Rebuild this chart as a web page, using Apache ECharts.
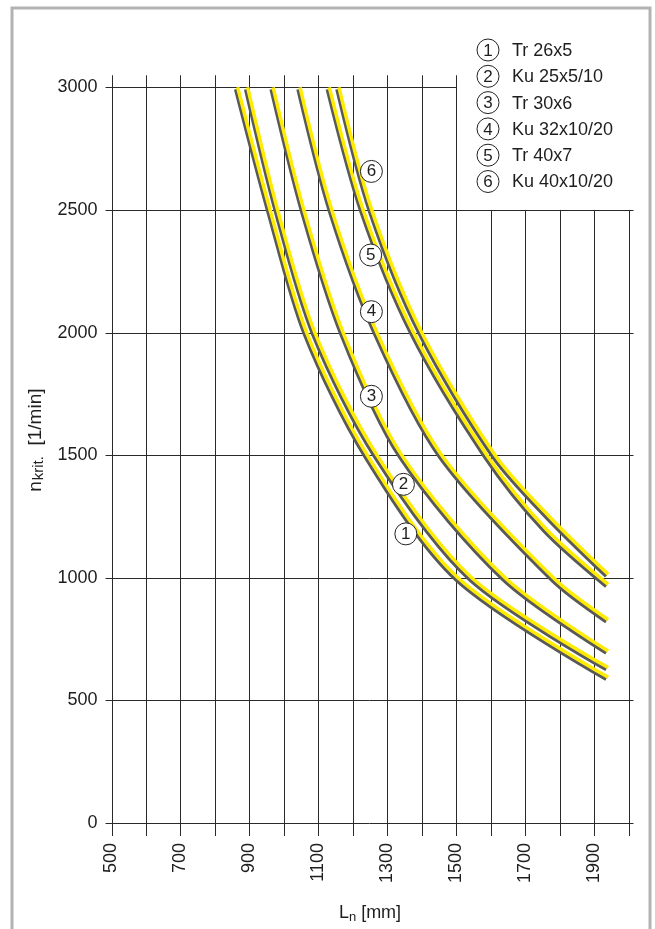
<!DOCTYPE html>
<html>
<head>
<meta charset="utf-8">
<script src="https://cdn.jsdelivr.net/npm/echarts@6/dist/echarts.min.js"></script>
<style>
  html, body { margin: 0; padding: 0; background: #fff; }
  #chart { width: 655px; height: 929px; }
</style>
</head>
<body>
<div id="chart"></div>
<script>
// Kurven (L in mm, n in 1/min)
let seriesNames = ['Tr 26x5', 'Ku 25x5/10', 'Tr 30x6', 'Ku 32x10/20', 'Tr 40x7', 'Ku 40x10/20'];
let curve1 = [[866, 3000], [960, 2500], [1066, 2000], [1242, 1500], [1505, 1000], [1941, 594]];
let curve2 = [[895, 3000], [982, 2500], [1090, 2000], [1270, 1500], [1545, 1000], [1941, 634]];
let curve3 = [[969, 3000], [1058, 2500], [1172, 2000], [1342, 1500], [1642, 1000], [1941, 701]];
let curve4 = [[1047, 3000], [1139, 2500], [1270, 2000], [1458, 1500], [1782, 1000], [1941, 829]];
let curve5 = [[1132, 3000], [1230, 2500], [1376, 2000], [1589, 1500], [1760, 1200], [1941, 973]];
let curve6 = [[1160, 3000], [1255, 2500], [1400, 2000], [1613, 1500], [1770, 1250], [1941, 1014]];
let curves = [curve1, curve2, curve3, curve4, curve5, curve6];

// Kreise mit Nummern an den Kurven
let markerX = [1354, 1347, 1254, 1254, 1252, 1254];
let markerY = [1179, 1381, 1740, 2085, 2316, 2657];
let markerText = ['1', '2', '3', '4', '5', '6'];

// Gitter
let xGrid = [500, 600, 700, 800, 900, 1000, 1100, 1200, 1300, 1400, 1500, 1600, 1700, 1800, 1900, 2000];
let yGrid = [0, 500, 1000, 1500, 2000, 2500, 3000];

let myChart = echarts.init(document.getElementById('chart'));

let lineColor = '#2a2a2a';
let textColor = '#1e1e1e';
let fontFamily = '"Liberation Sans", Arial, sans-serif';

function crisp(v) {
	return Math.round(v) + 0.5;
}

let series = [];

// senkrechte Gitterlinien (rechts oben nur bis 2500)
series.push({
	type: 'custom',
	clip: false,
	silent: true,
	z: 1,
	data: xGrid.map(function(x) { return [x, x <= 1500 ? 3000 : 2500]; }),
	renderItem: function(params, api) {
		let x = api.value(0);
		let top = api.value(1);
		let p0 = api.coord([x, 0]);
		let p1 = api.coord([x, top]);
		return {
			type: 'line',
			shape: { x1: crisp(p0[0]), y1: p0[1] + 13, x2: crisp(p0[0]), y2: p1[1] - (top === 3000 ? 12 : 0) },
			style: { stroke: lineColor, lineWidth: 1 }
		};
	}
});

// waagerechte Gitterlinien (3000 nur bis 1500)
series.push({
	type: 'custom',
	clip: false,
	silent: true,
	z: 1,
	data: yGrid.map(function(y) { return [y, y === 3000 ? 1500 : 2000]; }),
	renderItem: function(params, api) {
		let y = api.value(0);
		let end = api.value(1);
		let p0 = api.coord([500, y]);
		let p1 = api.coord([end, y]);
		return {
			type: 'line',
			shape: { x1: p0[0] - 6, y1: crisp(p0[1]), x2: p1[0] + (end === 2000 ? 5 : 0), y2: crisp(p0[1]) },
			style: { stroke: lineColor, lineWidth: 1 }
		};
	}
});

curves.forEach(function(c, i) {
	series.push({
		name: seriesNames[i],
		type: 'line',
		data: c,
		smooth: 0.3,
		showSymbol: false,
		z: 3,
		lineStyle: {
			color: '#ffec00',
			width: 3.5,
			shadowColor: '#595959',
			shadowBlur: 0,
			shadowOffsetX: -2,
			shadowOffsetY: 2
		}
	});
});

series.push({
	type: 'scatter',
	symbol: 'circle',
	symbolSize: 22,
	z: 5,
	data: markerX.map(function(x, i) { return [x, markerY[i], markerText[i]]; }),
	itemStyle: { color: '#fff', borderColor: '#222', borderWidth: 1, opacity: 1 },
	label: {
		show: true,
		position: 'inside',
		formatter: function(p) { return p.value[2]; },
		color: textColor,
		fontSize: 17,
		fontFamily: fontFamily
	}
});

// Legende oben rechts
let legend = [];
seriesNames.forEach(function(name, i) {
	let y = 50 + i * 26.3;
	legend.push({
		type: 'circle',
		shape: { cx: 488, cy: y, r: 11 },
		style: { fill: '#fff', stroke: '#222', lineWidth: 1 }
	});
	legend.push({
		type: 'text',
		x: 488, y: y + 1,
		style: { text: markerText[i], fill: textColor, font: '17px ' + fontFamily, align: 'center', verticalAlign: 'middle' }
	});
	legend.push({
		type: 'text',
		x: 512, y: y + 1,
		style: { text: name, fill: textColor, font: '18px ' + fontFamily, align: 'left', verticalAlign: 'middle' }
	});
});

let option = {
	animation: false,
	backgroundColor: '#fff',
	grid: {
		left: 111.5,
		right: 26.5,
		top: 87.3,
		bottom: 98.7
	},
	xAxis: {
		type: 'value',
		min: 500,
		max: 2000,
		interval: 100,
		axisLine: { show: false },
		axisTick: { show: false },
		splitLine: { show: false },
		axisLabel: {
			rotate: 90,
			margin: 20,
			color: textColor,
			fontSize: 18,
			fontFamily: fontFamily,
			formatter: function(v) {
				return (v / 100) % 2 === 1 ? String(v) : '';
			}
		},
		name: '{a|L}{b|n}{a| [mm]}',
		nameLocation: 'middle',
		nameGap: 79,
		nameTextStyle: {
			rich: {
				a: { fontSize: 18, color: textColor, fontFamily: fontFamily, lineHeight: 22 },
				b: { fontSize: 13, color: textColor, fontFamily: fontFamily, lineHeight: 22, verticalAlign: 'bottom', padding: [8, 0, 0, 0] }
			}
		}
	},
	yAxis: {
		type: 'value',
		min: 0,
		max: 3000,
		interval: 500,
		axisLine: { show: false },
		axisTick: { show: false },
		splitLine: { show: false },
		axisLabel: {
			margin: 14,
			color: textColor,
			fontSize: 18,
			fontFamily: fontFamily,
			formatter: function(v) { return String(v); }
		},
		name: '{a|n}{b|krit.}{a|  [1/min]}',
		nameLocation: 'middle',
		nameRotate: 90,
		nameGap: 63,
		nameTextStyle: {
			padding: [0, 0, 0, 30],
			rich: {
				a: { fontSize: 19, color: textColor, fontFamily: fontFamily, lineHeight: 22 },
				b: { fontSize: 15, color: textColor, fontFamily: fontFamily, lineHeight: 22, verticalAlign: 'bottom', padding: [8, 0, 0, 1] }
			}
		}
	},
	graphic: [{
		type: 'rect',
		shape: { x: 12, y: 8, width: 638, height: 940 },
		style: { fill: null, stroke: '#b3b3b3', lineWidth: 3 },
		silent: true
	}, {
		type: 'group',
		children: legend
	}],
	series: series
};

myChart.setOption(option);
</script>
</body>
</html>
